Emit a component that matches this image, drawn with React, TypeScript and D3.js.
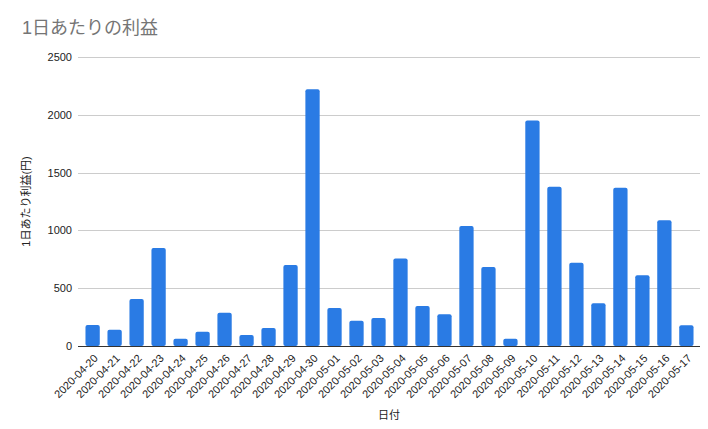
import React, { useEffect, useRef } from 'react';
import * as d3 from 'd3';

const dates = [
  '2020-04-20', '2020-04-21', '2020-04-22', '2020-04-23', '2020-04-24', '2020-04-25', '2020-04-26',
  '2020-04-27', '2020-04-28', '2020-04-29', '2020-04-30', '2020-05-01', '2020-05-02', '2020-05-03',
  '2020-05-04', '2020-05-05', '2020-05-06', '2020-05-07', '2020-05-08', '2020-05-09', '2020-05-10',
  '2020-05-11', '2020-05-12', '2020-05-13', '2020-05-14', '2020-05-15', '2020-05-16', '2020-05-17',
];
const profits = [
  182, 141, 407, 848, 63, 124, 288,
  95, 156, 701, 2222, 329, 219, 242,
  756, 346, 274, 1039, 684, 63, 1951,
  1377, 721, 370, 1368, 612, 1088, 179,
];
const yTicks = [0, 500, 1000, 1500, 2000, 2500];

const title = '1日あたりの利益';
const yTitle = '1日あたり利益(円)';
const xTitle = '日付';

const W = 708;
const H = 429;
const FONT = 'Arial, "Liberation Sans", "Noto Sans CJK JP", sans-serif';

export default function App() {
  const svgRef = useRef<SVGSVGElement>(null);

  useEffect(() => {
    if (!svgRef.current) return;
    const svg = d3.select(svgRef.current);
    svg.selectAll('*').remove();

    const left = 78, right = 701, top = 57, bottom = 346;

    const x = d3.scaleBand<string>()
      .domain(dates)
      .range([left, right])
      .paddingInner(0.35)
      .paddingOuter(0.34);

    const y = d3.scaleLinear()
      .domain([0, 2500])
      .range([bottom, top]);

    svg.append('rect').attr('width', W).attr('height', H).attr('fill', '#fff');

    // title
    svg.append('text')
      .attr('x', 22).attr('y', 34)
      .attr('font-family', FONT).attr('font-size', 18)
      .attr('fill', '#757575')
      .text(title);

    // gridlines
    svg.append('g')
      .selectAll('line')
      .data(yTicks.filter(t => t > 0))
      .enter().append('line')
      .attr('x1', left).attr('x2', 700)
      .attr('y1', d => Math.round(y(d)) + 0.5).attr('y2', d => Math.round(y(d)) + 0.5)
      .attr('stroke', '#cccccc');

    // y tick labels
    svg.append('g')
      .selectAll('text')
      .data(yTicks)
      .enter().append('text')
      .attr('x', 72).attr('y', d => y(d) + 4)
      .attr('text-anchor', 'end')
      .attr('font-family', FONT).attr('font-size', 11)
      .attr('fill', '#222')
      .text(d => String(d));

    // bars
    svg.append('g')
      .selectAll('rect')
      .data(profits)
      .enter().append('rect')
      .attr('x', (_, i) => x(dates[i])!)
      .attr('width', x.bandwidth())
      .attr('y', d => y(d))
      .attr('height', d => bottom - y(d))
      .attr('rx', 2)
      .attr('fill', '#2a7be4');

    // baseline
    svg.append('line')
      .attr('x1', left).attr('x2', 700)
      .attr('y1', bottom + 0.5).attr('y2', bottom + 0.5)
      .attr('stroke', '#333');

    // x tick labels
    svg.append('g')
      .selectAll('text')
      .data(dates)
      .enter().append('text')
      .attr('transform', d => `translate(${x(d)! + x.bandwidth() / 2 + 6},${bottom + 13}) rotate(-45)`)
      .attr('text-anchor', 'end')
      .attr('font-family', FONT).attr('font-size', 11)
      .attr('fill', '#222')
      .text(d => d);

    // axis titles
    svg.append('text')
      .attr('transform', `translate(30,${(top + bottom) / 2}) rotate(-90)`)
      .attr('text-anchor', 'middle')
      .attr('font-family', FONT).attr('font-size', 11)
      .attr('fill', '#222')
      .text(yTitle);

    svg.append('text')
      .attr('x', 389).attr('y', 419)
      .attr('text-anchor', 'middle')
      .attr('font-family', FONT).attr('font-size', 11)
      .attr('fill', '#222')
      .text(xTitle);
  }, []);

  return (
    <div style={{ position: 'fixed', left: 0, top: 0 }}>
      <svg ref={svgRef} width={W} height={H} style={{ display: 'block' }} />
    </div>
  );
}
